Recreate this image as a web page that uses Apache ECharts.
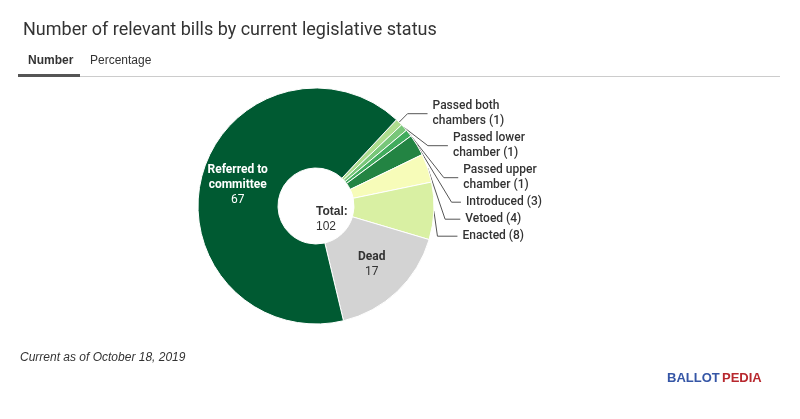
<!DOCTYPE html><html><head><meta charset="utf-8"><script src="https://cdn.jsdelivr.net/npm/echarts@6/dist/echarts.min.js"></script>
<style>body{margin:0}#c{width:800px;height:419px}</style></head><body><div id="c"></div><script>
const categories=["Passed both chambers","Passed lower chamber","Passed upper chamber","Introduced","Vetoed","Enacted","Dead","Referred to committee"];
const values=[1,1,1,3,4,8,17,67];
const colors=["#addd8e","#78c679","#41ab5d","#238443","#f7fcb9","#d9f0a3","#d3d3d3","#005a32"];
const outsideLabels=["Passed both\nchambers (1)","Passed lower\nchamber (1)","Passed upper\nchamber (1)","Introduced (3)","Vetoed (4)","Enacted (8)"];
const total=values.reduce((a,b)=>a+b,0);
const ch=echarts.init(document.getElementById('c'));
const data=categories.map((n,i)=>{
  const d={name:n,value:values[i],itemStyle:{color:colors[i]}};
  if(i<6){d.label={show:true,position:'outside',formatter:outsideLabels[i],color:'#333',fontSize:12,fontWeight:'500',lineHeight:15};d.labelLine={show:true,lineStyle:{color:'#555'}};}
  else{d.label={show:true,position:'inner',formatter:i==6?'{b|Dead}\n{v|17}':'{b|Referred to\ncommittee}\n{v|67}',rich:{b:{color:i==6?'#333':'#fff',fontWeight:'bold',fontSize:12,lineHeight:15},v:{color:i==6?'#333':'#fff',fontSize:12,lineHeight:15}}};d.labelLine={show:false};}
  return d;});
ch.setOption({
 textStyle:{fontFamily:'Roboto'},
 title:{text:'Number of relevant bills by current legislative status',left:18,top:16,textStyle:{fontSize:18,fontWeight:'normal',color:'#333'}},
 graphic:[
  {type:'text',left:28,top:55,style:{text:'Number',fontSize:12,fontWeight:'bold',fill:'#333'}},
  {type:'text',left:90,top:55,style:{text:'Percentage',fontSize:12,fill:'#333'}},
  {type:'rect',shape:{x:18,y:76,width:762,height:1},style:{fill:'#ccc'}},
  {type:'rect',shape:{x:18,y:74,width:62,height:3},style:{fill:'#555'}},
  {type:'text',left:20,top:352,style:{text:'Current as of October 18, 2019',fontSize:12,fontStyle:'italic',fill:'#333'}},
  {type:'text',left:667,top:372,style:{text:'BALLOT',fontSize:13,fontWeight:'bold',fill:'#3556a6'}},
  {type:'text',left:722,top:372,style:{text:'PEDIA',fontSize:13,fontWeight:'bold',fill:'#b8282e'}},
  {type:'text',left:316,top:206,style:{text:'{b|Total:}\n{v|'+total+'}',align:'center',verticalAlign:'middle',rich:{b:{fontWeight:'bold',fontSize:12,fill:'#333',lineHeight:15},v:{fontSize:12,fill:'#333',lineHeight:15}}}}
 ],
 series:[{type:'pie',center:[316,206],radius:[38,118],startAngle:47,clockwise:true,data:data,
  itemStyle:{borderColor:'#fff',borderWidth:1},
  labelLine:{length:12,length2:20},
  labelLayout:{hideOverlap:false},
  avoidLabelOverlap:true}]
});
</script></body></html>
